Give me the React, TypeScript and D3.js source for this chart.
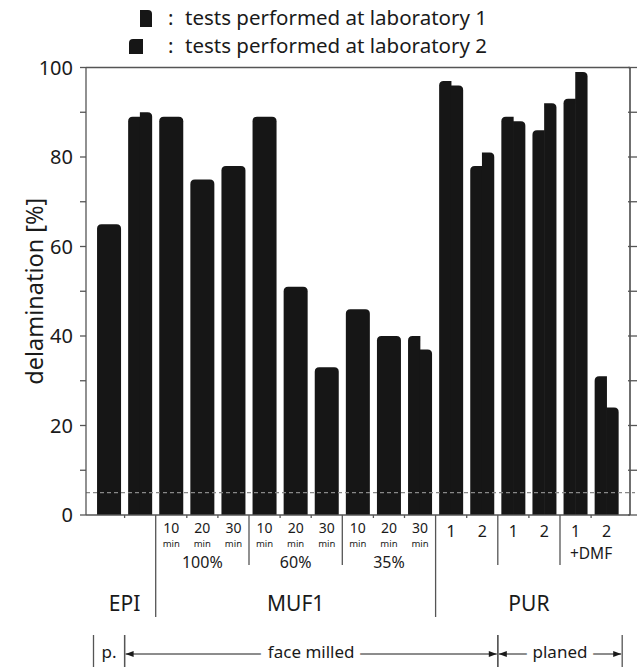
import React from "react";
import * as d3 from "d3";

// ---------- data ----------
const barIds = ["EPI-p", "EPI-fm", "M100-10", "M100-20", "M100-30", "M60-10", "M60-20", "M60-30", "M35-10", "M35-20", "M35-30", "PUR-fm-1", "PUR-fm-2", "PUR-pl-1", "PUR-pl-2", "PUR-DMF-1", "PUR-DMF-2"];
const lab2Values = [65, 89, 89, 75, 78, 89, 51, 33, 46, 40, 40, 97, 78, 89, 86, 93, 31];
const lab1Values = [65, 90, 89, 75, 78, 89, 51, 33, 46, 40, 37, 96, 81, 88, 92, 99, 24];
const barTopLabels = ["", "", "10", "20", "30", "10", "20", "30", "10", "20", "30", "1", "2", "1", "2", "1", "2"];
const barUnitLabels = ["", "", "min", "min", "min", "min", "min", "min", "min", "min", "min", "", "", "", "", "", ""];
const yMajorTicks = [0, 20, 40, 60, 80, 100];
const yAllTicks = [0, 10, 20, 30, 40, 50, 60, 70, 80, 90, 100];
const thresholdValue = 5;
const materialLabels = ["EPI", "MUF1", "PUR"];
const materialStart = [0, 2, 11];
const materialEnd = [1, 10, 16];
const conditionLabels = ["100%", "60%", "35%", "", "", "+DMF"];
const conditionStart = [2, 5, 8, 11, 13, 15];
const conditionEnd = [4, 7, 10, 12, 14, 16];
const surfaceLabels = ["p.", "face milled", "planed"];
const surfaceStart = [0, 1, 13];
const surfaceEnd = [0, 12, 16];
const legendLabels = ["tests performed at laboratory 1", "tests performed at laboratory 2"];
const yAxisTitle = "delamination [%]";

const FONT = "'Noto Sans', 'Liberation Sans', Arial, sans-serif";
const INK = "#1a1a1a";
const BAR = "#161616";
const AXIS = "#555";

function roundedTop(x0: number, x1: number, yt: number, yb: number, rl: boolean, rr: boolean, r: number) {
  const p = d3.path();
  p.moveTo(x0, yb);
  if (rl) {
    p.lineTo(x0, yt + r);
    p.quadraticCurveTo(x0, yt, x0 + r, yt);
  } else p.lineTo(x0, yt);
  if (rr) {
    p.lineTo(x1 - r, yt);
    p.quadraticCurveTo(x1, yt, x1, yt + r);
  } else p.lineTo(x1, yt);
  p.lineTo(x1, yb);
  p.closePath();
  return p.toString();
}

export default function App() {
  const W = 642, H = 669;
  const plotLeft = 86, plotRight = 630, plotTop = 67.5, plotBottom = 515;

  const x = d3.scaleBand<string>().domain(barIds).range([93.5, 622.2]).paddingInner(0.228).paddingOuter(0.114);
  const y = d3.scaleLinear().domain([0, 100]).range([plotBottom, plotTop]);
  const step = x.step();
  const bw = x.bandwidth();
  const leftEdge = (i: number) => (x(barIds[i]) as number) - (step - bw) / 2;
  const rightEdge = (i: number) => (x(barIds[i]) as number) + bw + (step - bw) / 2;
  const center = (i: number) => (x(barIds[i]) as number) + bw / 2;
  const r = 4.5;

  const longDiv = materialStart.slice(1).map((s) => leftEdge(s));
  const shortDiv: number[] = [];
  conditionStart.forEach((s, k) => {
    const g = materialStart.indexOf(s);
    if (g === -1 && k > 0) shortDiv.push(leftEdge(s));
  });
  const allDiv = [...longDiv, ...shortDiv];
  const smallTicks = barIds.slice(1).map((_, i) => leftEdge(i + 1)).filter((b) => !allDiv.some((d) => Math.abs(d - b) < 0.5));

  const arrowY = 654;

  return (
    <svg width={W} height={H} style={{ position: "fixed", left: 0, top: 0, background: "#fff" }} fontFamily={FONT}>
      <rect x={0} y={0} width={W} height={H} fill="#fff" />
      {/* legend */}
      <path d={roundedTop(140, 152, 10, 27, false, true, 4)} fill={BAR} />
      <path d={roundedTop(129, 143, 39, 54, true, false, 4)} fill={BAR} />
      {legendLabels.map((t, i) => (
        <g key={t} fontSize={20.5} fill={INK}>
          <text x={168} y={25 + i * 28}>:</text>
          <text x={185} y={25 + i * 28}>{t}</text>
        </g>
      ))}

      {/* bars */}
      {barIds.map((id, i) => {
        const x0 = x(id) as number;
        const x1 = x0 + bw;
        const xm = x0 + bw / 2;
        const a = lab2Values[i], b = lab1Values[i];
        if (a === b) {
          return <path key={id} d={roundedTop(x0, x1, y(a), plotBottom, true, true, r)} fill={BAR} />;
        }
        return (
          <g key={id}>
            <path d={roundedTop(x0, xm + 0.3, y(a), plotBottom, true, false, r)} fill={BAR} />
            <path d={roundedTop(xm - 0.3, x1, y(b), plotBottom, false, true, r)} fill={BAR} />
          </g>
        );
      })}

      {/* threshold line */}
      <line x1={plotLeft} x2={plotRight + 5} y1={y(thresholdValue)} y2={y(thresholdValue)} stroke="#888" strokeWidth={1.2} strokeDasharray="4 3" />

      {/* frame */}
      <g stroke={AXIS} strokeWidth={1.3} fill="none">
        <line x1={plotLeft} x2={plotRight} y1={plotTop} y2={plotTop} />
        <line x1={plotLeft} x2={plotRight} y1={plotBottom} y2={plotBottom} />
        <line x1={plotLeft} x2={plotLeft} y1={plotTop} y2={plotBottom} />
        <line x1={plotRight} x2={plotRight} y1={plotTop} y2={plotBottom} stroke="#222" />
        {yAllTicks.map((t) => (
          <g key={t}>
            <line x1={plotLeft - 6} x2={plotLeft} y1={y(t)} y2={y(t)} />
            <line x1={plotRight - 2} x2={plotRight + 7} y1={y(t)} y2={y(t)} />
          </g>
        ))}
        {smallTicks.map((b, i) => (
          <line key={i} x1={b} x2={b} y1={plotBottom} y2={plotBottom + 3} />
        ))}
        {longDiv.map((b, i) => (
          <line key={"l" + i} x1={b} x2={b} y1={plotBottom} y2={617} />
        ))}
        {shortDiv.map((b, i) => (
          <line key={"s" + i} x1={b} x2={b} y1={plotBottom} y2={565} />
        ))}
      </g>

      {/* y tick labels */}
      {yMajorTicks.map((t) => (
        <text key={t} x={73} y={y(t)} dy="0.35em" textAnchor="end" fontSize={20} fill={INK}>{t}</text>
      ))}
      <text transform={`translate(43,${(plotTop + plotBottom) / 2}) rotate(-90)`} textAnchor="middle" fontSize={23.5} fill={INK}>{yAxisTitle}</text>

      {/* bar labels */}
      {barIds.map((id, i) => (
        <g key={id} textAnchor="middle" fill={INK}>
          {barUnitLabels[i] ? (
            <>
              <text x={center(i)} y={532.5} fontSize={14}>{barTopLabels[i]}</text>
              <text x={center(i)} y={547} fontSize={9.5}>{barUnitLabels[i]}</text>
            </>
          ) : (
            <text x={center(i)} y={537} fontSize={16}>{barTopLabels[i]}</text>
          )}
        </g>
      ))}
      {conditionLabels.map((t, k) => (
        <text key={k} x={(center(conditionStart[k]) + center(conditionEnd[k])) / 2} y={k < 3 ? 568 : 559} textAnchor="middle" fontSize={k < 3 ? 16 : 15.5} fill={INK}>{t}</text>
      ))}
      {materialLabels.map((t, k) => (
        <text key={t} x={(center(materialStart[k]) + center(materialEnd[k])) / 2} y={611} textAnchor="middle" fontSize={21} fill={INK}>{t}</text>
      ))}

      {/* surface row */}
      {surfaceLabels.map((t, k) => {
        const a = leftEdge(surfaceStart[k]);
        const b = rightEdge(surfaceEnd[k]);
        const mid = (a + b) / 2;
        const hasArrow = b - a > step * 1.5;
        return (
          <g key={t}>
            <line x1={a} x2={a} y1={635} y2={667} stroke={AXIS} strokeWidth={1.3} />
            <line x1={b} x2={b} y1={635} y2={667} stroke={AXIS} strokeWidth={1.3} />
            {hasArrow && (
              <>
                <line x1={a + 1} x2={b - 1} y1={arrowY} y2={arrowY} stroke={INK} strokeWidth={1} />
                <path d={`M${a + 1},${arrowY} L${a + 9},${arrowY - 3} L${a + 9},${arrowY + 3} Z`} fill={INK} />
                <path d={`M${b - 1},${arrowY} L${b - 9},${arrowY - 3} L${b - 9},${arrowY + 3} Z`} fill={INK} />
              </>
            )}
            <text x={mid} y={658} textAnchor="middle" fontSize={17} fill={INK} stroke="#fff" strokeWidth={hasArrow ? 14 : 0} paintOrder="stroke" strokeLinejoin="miter">{t}</text>
          </g>
        );
      })}
    </svg>
  );
}
